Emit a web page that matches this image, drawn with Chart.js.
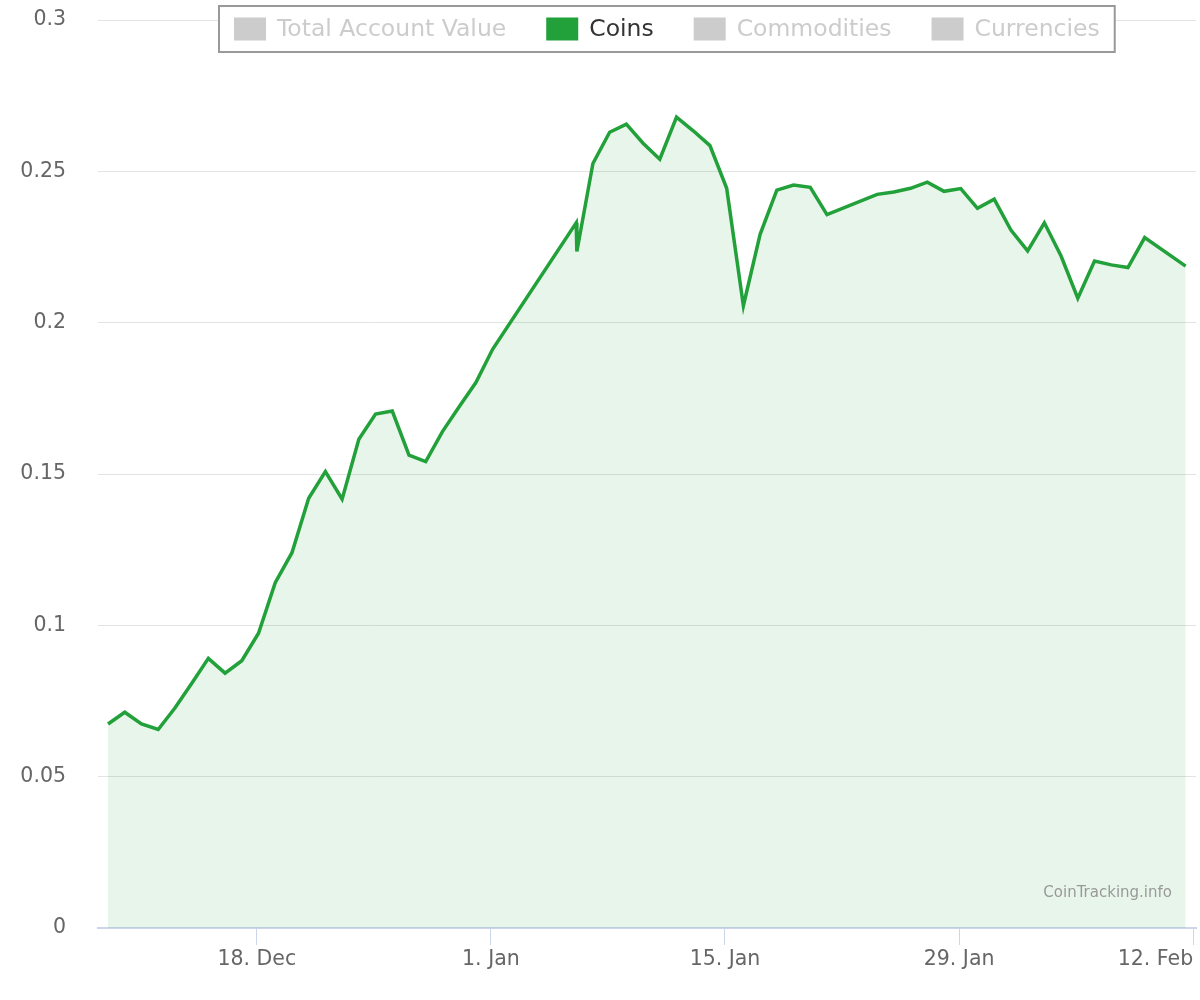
<!DOCTYPE html>
<html>
<head>
<meta charset="utf-8">
<title>Coins</title>
<script src="https://cdn.jsdelivr.net/npm/chart.js@4.4.1/dist/chart.umd.min.js"></script>
<style>
    body { margin: 0; background: #fff; }
    #wrap { position: relative; width: 1200px; height: 1000px; }
</style>
</head>
<body>
<div id="wrap"><canvas id="chart"></canvas></div>
<script>
    'use strict';

    // days counted from 1 Jan; snapshots are taken a little after midnight
    var snapshotTime = 0.1;
    var days = [
        -23, -22, -21, -20, -19, -18, -17, -16, -15, -14, -13, -12,
        -11, -10, -9, -8, -7, -6, -5, -4, -3, -2, -1, 0,
        5, 5.04, 6, 7, 8, 9, 10, 11, 12, 13, 14, 15, 16, 17, 18, 19, 20,
        23, 24, 25, 26, 27, 28, 29, 30, 31, 32, 33, 34, 35, 36, 37, 38, 39,
        41.45
    ];
    var coinValues = [
        0.0674, 0.0713, 0.0674, 0.0656, 0.0727, 0.0808, 0.0891, 0.0842, 0.0883, 0.0974, 0.1141, 0.1240,
        0.1420, 0.1508, 0.1417, 0.1615, 0.1698, 0.1708, 0.1562, 0.1541, 0.1640, 0.1722, 0.1802, 0.1912,
        0.2330, 0.2235, 0.2526, 0.2629, 0.2656, 0.2593, 0.2540, 0.2679, 0.2634, 0.2585, 0.2444, 0.2056, 0.2292, 0.2438, 0.2455, 0.2447, 0.2357,
        0.2424, 0.2432, 0.2444, 0.2464, 0.2434, 0.2443, 0.2378, 0.2408, 0.2306, 0.2237, 0.2330, 0.2220, 0.2081, 0.2204, 0.2191, 0.2182, 0.2281,
        0.2187
    ];

    var tickDays = [-14, 0, 14, 28, 42];
    var tickLabels = ['18. Dec', '1. Jan', '15. Jan', '29. Jan', '12. Feb'];
    var yTicks = [0, 0.05, 0.1, 0.15, 0.2, 0.25, 0.3];
    var yTickLabels = ['0', '0.05', '0.1', '0.15', '0.2', '0.25', '0.3'];

    var seriesNames = ['Total Account Value', 'Coins', 'Commodities', 'Currencies'];
    var activeSeries = 'Coins';
    var creditText = 'CoinTracking.info';

    var green = 'rgb(34,160,58)';
    var fontFamily = '"DejaVu Sans", sans-serif';

    var points = days.map(function (d, i) {
        return { x: d + snapshotTime, y: coinValues[i] };
    });

    // legend in a bordered box, drawn over the top grid line
    var boxedLegend = {
        id: 'boxedLegend',
        afterDraw: function (chart, args, opts) {
            var ctx = chart.ctx;
            ctx.save();
            ctx.font = opts.fontSize + 'px ' + fontFamily;
            var x = opts.left + opts.padX;
            var widths = seriesNames.map(function (n) { return ctx.measureText(n).width; });
            var total = opts.padX * 2;
            widths.forEach(function (w, i) {
                total += opts.symbolW + opts.symbolGap + w + (i > 0 ? opts.itemGap : 0);
            });
            ctx.fillStyle = '#fff';
            ctx.fillRect(opts.left, opts.top, total, opts.height);
            ctx.strokeStyle = '#999';
            ctx.lineWidth = 2;
            ctx.strokeRect(opts.left, opts.top, total, opts.height);

            var midY = opts.top + opts.height / 2;
            ctx.textBaseline = 'middle';
            ctx.textAlign = 'left';
            seriesNames.forEach(function (name, i) {
                var on = name === activeSeries;
                ctx.fillStyle = on ? green : '#ccc';
                ctx.fillRect(x, midY - opts.symbolH / 2, opts.symbolW, opts.symbolH);
                x += opts.symbolW + opts.symbolGap;
                ctx.fillStyle = on ? '#333' : '#ccc';
                ctx.fillText(name, x, midY + 1);
                x += widths[i] + opts.itemGap;
            });

            ctx.font = '15px ' + fontFamily;
            ctx.fillStyle = '#999';
            ctx.textAlign = 'right';
            ctx.fillText(creditText, chart.chartArea.right - 24, chart.chartArea.bottom - 35);
            ctx.restore();
        }
    };

    new Chart(document.getElementById('chart'), {
        type: 'line',
        data: {
            datasets: [{
                label: activeSeries,
                data: points,
                borderColor: green,
                borderWidth: 3.5,
                backgroundColor: 'rgba(34,160,58,0.1)',
                fill: 'origin',
                pointRadius: 0,
                tension: 0
            }]
        },
        options: {
            responsive: true,
            maintainAspectRatio: false,
            animation: false,
            layout: { padding: { top: 20, right: 4, left: 0, bottom: 0 } },
            plugins: {
                legend: { display: false },
                tooltip: { enabled: false },
                boxedLegend: {
                    left: 219, top: 6, height: 46, padX: 15,
                    symbolW: 32, symbolH: 23, symbolGap: 11, itemGap: 40,
                    fontSize: 23.5
                }
            },
            scales: {
                x: {
                    type: 'linear',
                    min: -23.5,
                    max: 42.17,
                    afterBuildTicks: function (scale) {
                        scale.ticks = [scale.min].concat(tickDays).map(function (v) { return { value: v }; });
                    },
                    afterFit: function (scale) {
                        scale.height = 72;
                        scale.paddingLeft = 0;
                        scale.paddingRight = 0;
                    },
                    grid: {
                        drawOnChartArea: false,
                        drawTicks: true,
                        tickLength: 17,
                        tickWidth: 1,
                        tickColor: function (c) { return c.index === 0 ? 'rgba(0,0,0,0)' : '#ccd6eb'; }
                    },
                    border: { display: true, color: '#ccd6eb', width: 2 },
                    ticks: {
                        autoSkip: false,
                        maxRotation: 0,
                        align: 'inner',
                        padding: 2,
                        color: '#666',
                        font: { family: fontFamily, size: 20.5 },
                        callback: function (value) {
                            var i = tickDays.indexOf(value);
                            return i < 0 ? '' : tickLabels[i];
                        }
                    }
                },
                y: {
                    min: 0,
                    max: 0.3,
                    afterBuildTicks: function (scale) {
                        scale.ticks = yTicks.map(function (v) { return { value: v }; });
                    },
                    afterFit: function (scale) {
                        scale.width = 98;
                        scale.paddingTop = 0;
                        scale.paddingBottom = 0;
                    },
                    grid: { color: '#e3e3e3', lineWidth: 1, drawTicks: false },
                    border: { display: false },
                    ticks: {
                        padding: 32,
                        color: '#666',
                        font: { family: fontFamily, size: 20.5 },
                        callback: function (value) {
                            var i = yTicks.indexOf(value);
                            return i < 0 ? '' : yTickLabels[i];
                        }
                    }
                }
            }
        },
        plugins: [boxedLegend]
    });
</script>
</body>
</html>
